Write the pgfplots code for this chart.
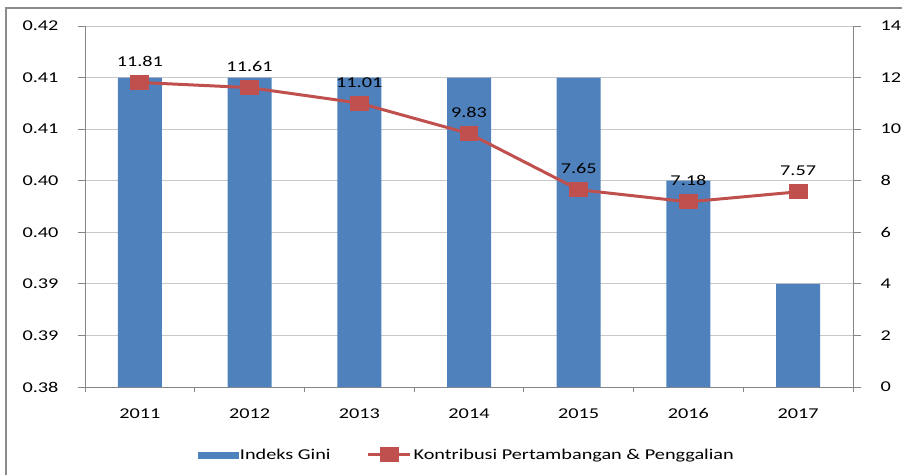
\documentclass[border=0pt]{standalone}
\usepackage{fontspec}
\setmainfont[FakeStretch=1.35]{Carlito}
\usepackage{pgfplots}
\pgfplotsset{compat=1.18}
\definecolor{barblue}{HTML}{4F81BD}
\definecolor{linered}{HTML}{C0504D}
\definecolor{axgray}{HTML}{868686}
\definecolor{gridgray}{HTML}{C8C8C8}
\definecolor{framegray}{HTML}{8C8C8C}
\pgfplotsset{
  common/.style={
    at={(85pt,88pt)}, anchor=south west, scale only axis,
    width=768pt, height=361pt,
    xmin=-0.5, xmax=6.5,
    font=\fontsize{15}{18}\selectfont,
    /pgf/number format/assume math mode=true,
    tick align=outside,
    axis line style={axgray, line width=1pt, -},
    tick style={axgray, line width=1pt},
  }
}
\begin{document}
\begin{tikzpicture}
\path[use as bounding box] (0pt,0pt) rectangle (902pt,475pt);
\draw[framegray, line width=2pt] (6pt,0pt) -- (6pt,467pt) -- (903pt,467pt);
\begin{axis}[common,
  ymin=0.38, ymax=0.42,
  axis x line*=bottom, axis y line*=left,
  xtick={0,...,6}, xticklabels={2011,2012,2013,2014,2015,2016,2017},
  xticklabel style={yshift=-11pt},
  minor xtick={-0.5,0.5,...,6.5},
  major x tick style={draw=none},
  minor tick length=5pt,
  major tick length=7pt,
  ytick={0.38,0.385714,0.391429,0.397143,0.402857,0.408571,0.414286,0.42},
  yticklabels={0.38,0.39,0.39,0.40,0.40,0.41,0.41,0.42},
  yticklabel style={xshift=-16pt},
  ymajorgrids, grid style={gridgray, line width=1pt},
  ybar, bar width=44pt,
]
\addplot[fill=barblue, draw=none] coordinates {(0,0.414286) (1,0.414286) (2,0.414286) (3,0.414286) (4,0.414286) (5,0.402857) (6,0.391429)};
\end{axis}
\begin{axis}[common,
  ymin=0, ymax=14, ytick={0,2,...,14},
  axis y line*=right, axis x line=none,
  major tick length=8pt,
  yticklabel style={xshift=16pt},
  legend columns=2,
  legend style={draw=none, fill=none, at={(0.497,-0.188)}, anchor=center,
    /tikz/every even column/.append style={column sep=34pt},
    font=\fontsize{15}{18}\selectfont},
  legend cell align=left,
]
\addlegendimage{legend image code/.code={\fill[barblue] (0pt,-3pt) rectangle (40pt,3pt);}}
\addlegendentry{Indeks Gini}
\addplot[linered, line width=3pt, mark=square*, mark size=6pt,
  mark options={xscale=1.33, solid},
  legend image code/.code={\draw[linered, line width=3pt] (0pt,0pt) -- (42pt,0pt);
     \fill[linered] (13pt,-6pt) rectangle (29pt,6pt);},
  nodes near coords,
  every node near coord/.append style={black, anchor=base, yshift=16pt,
     /pgf/number format/.cd, fixed, fixed zerofill, precision=2},
] coordinates {(0,11.81) (1,11.61) (2,11.01) (3,9.83) (4,7.65) (5,7.18) (6,7.57)};
\addlegendentry{Kontribusi Pertambangan \& Penggalian}
\end{axis}
\end{tikzpicture}
\end{document}
